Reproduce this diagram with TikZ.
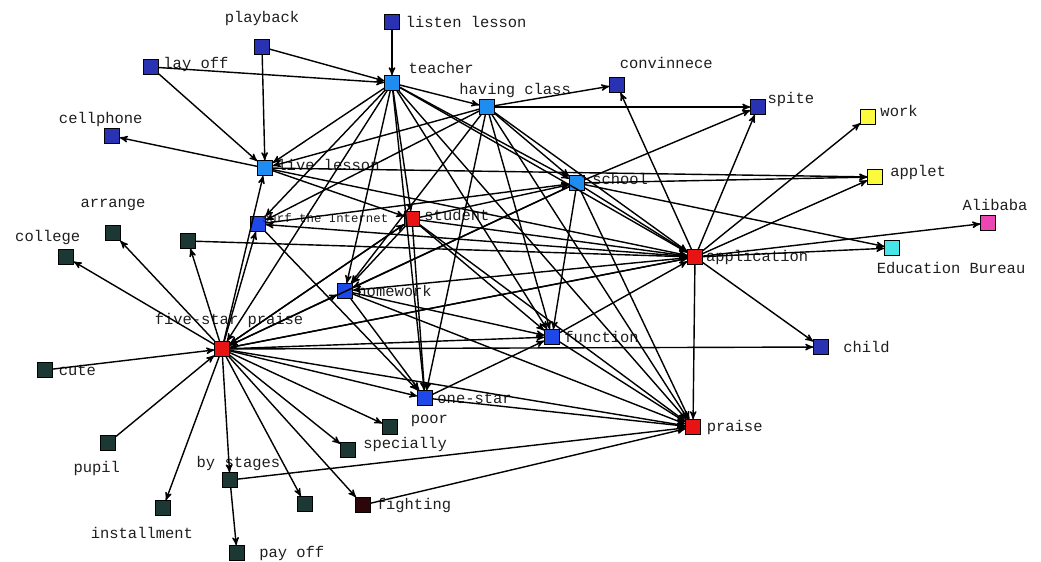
\documentclass[tikz,border=0pt]{standalone}
\usepackage{fontspec}
\setmonofont{Liberation Mono}
\usepackage{tikz}
\usetikzlibrary{arrows}

\definecolor{dblue}{RGB}{40,50,178}
\definecolor{lblue}{RGB}{30,140,240}
\definecolor{mblue}{RGB}{30,72,232}
\definecolor{nred}{RGB}{232,20,20}
\definecolor{nyellow}{RGB}{252,250,60}
\definecolor{nmagenta}{RGB}{236,70,180}
\definecolor{ncyan}{RGB}{70,230,232}
\definecolor{nteal}{RGB}{28,56,52}
\definecolor{nfight}{RGB}{44,6,10}
\definecolor{txtc}{RGB}{30,30,30}

\begin{document}
\begin{tikzpicture}[x=0.025cm, y=-0.025cm, ->, >=stealth', line width=1pt,
				   every node/.style={rectangle, draw=black, line width=0.6pt, minimum size=0.37cm, inner sep=0pt},
				   lbl/.style={draw=none, fill=none, minimum size=0pt, inner sep=1pt, text=txtc, font=\ttfamily\fontsize{11}{12}\selectfont},
				   small lbl/.style={lbl, font=\ttfamily\fontsize{8.8}{10}\selectfont}]
\useasboundingbox (0,0) rectangle (1041,561);

\node[fill=dblue, label={[lbl, yshift=8pt]above:playback}] (playb) at (262,47) {};
\node[fill=dblue, label={[lbl, xshift=3pt]right:listen lesson}] (listen) at (392,22) {};
\node[fill=dblue, label={[lbl, xshift=2pt, yshift=2pt]right:lay off}] (layoff) at (151,67) {};
\node[fill=lblue, label={[lbl, xshift=5pt]above right:teacher}] (teach) at (392,83) {};
\node[fill=lblue, label={[lbl, xshift=20pt]above:having class}] (having) at (487,107) {};
\node[fill=dblue, label={[lbl, xshift=35pt, yshift=5pt]above:convinnece}] (conv) at (617,85) {};
\node[fill=dblue, label={[lbl, yshift=5pt]right:spite}] (spite) at (758,107) {};
\node[fill=nyellow, label={[lbl, xshift=2pt, yshift=4pt]right:work}] (work) at (868,117) {};
\node[fill=dblue, label={[lbl, xshift=-8pt]above:cellphone}] (cellp) at (112,136) {};
\node[fill=lblue, label={[lbl, xshift=2pt, yshift=2pt]right:live lesson}] (live) at (265,168) {};
\node[fill=lblue, label={[lbl, xshift=4pt, yshift=3pt]right:school}] (school) at (577,183) {};
\node[fill=nyellow, label={[lbl, xshift=4pt, yshift=3pt]right:applet}] (applet) at (875,177) {};
\node[fill=nteal, label={[lbl, yshift=9pt]above:arrange}] (arrg) at (113,233) {};
\node[fill=nteal, label={[lbl, xshift=-13pt, yshift=2pt]above:college}] (coll) at (66,257) {};
\node[fill=nteal] (unA) at (188,241) {};
\node[fill=mblue, label={[small lbl, xshift=-4pt, yshift=4pt]right:surf the Internet}] (surf) at (258,224) {};
\node[fill=nred, label={[lbl, xshift=2pt, yshift=3pt]right:student}] (stud) at (412,219) {};
\node[fill=nmagenta, label={[lbl, xshift=5pt, yshift=2pt]above:Alibaba}] (alib) at (988,223) {};
\node[fill=nred, label={[lbl, xshift=1pt]right:application}] (appl) at (695,257) {};
\node[fill=ncyan, label={[lbl, xshift=42pt, yshift=-3pt]below:Education Bureau}] (eduB) at (892,248) {};
\node[fill=mblue, label={[lbl, xshift=2pt]right:homework}] (homew) at (345,291) {};
\node[fill=nred, label={[lbl, xshift=5pt, yshift=8pt]above:five-star praise}] (fsp) at (222,349) {};
\node[fill=mblue, label={[lbl, xshift=2pt]right:function}] (func) at (552,337) {};
\node[fill=dblue, label={[lbl, xshift=9pt]right:child}] (child) at (821,347) {};
\node[fill=nteal, label={[lbl, xshift=3pt]right:cute}] (cute) at (45,370) {};
\node[fill=mblue, label={[lbl, xshift=2pt]right:one-star}] (onestar) at (425,398) {};
\node[fill=nteal, label={[lbl, xshift=8pt, yshift=4pt]right:poor}] (poor) at (390,427) {};
\node[fill=nteal, label={[lbl, xshift=4pt, yshift=4pt]right:specially}] (spec) at (348,450) {};
\node[fill=nred, label={[lbl, xshift=3pt]right:praise}] (praise) at (693,427) {};
\node[fill=nteal, label={[lbl, xshift=-8pt, yshift=-6pt]below:pupil}] (pupil) at (108,443) {};
\node[fill=nteal, label={[lbl, xshift=6pt]above:by stages}] (bystg) at (230,480) {};
\node[fill=nfight, label={[lbl, xshift=3pt]right:fighting}] (fight) at (363,505) {};
\node[fill=nteal] (unB) at (305,504) {};
\node[fill=nteal, label={[lbl, xshift=-15pt, yshift=-7pt]below:installment}] (inst) at (163,508) {};
\node[fill=nteal, label={[lbl, xshift=9pt]right:pay off}] (payoff) at (237,553) {};

\draw (playb) -- (live);
\draw (playb) -- (teach);
\draw (layoff) -- (live);
\draw (layoff) -- (teach);
\draw (listen) -- (teach);
\draw (live) -- (cellp);
\foreach \t in {having,school,live,surf,stud,homew,onestar,func,appl,fsp,praise}
	\draw (teach) -- (\t);
\foreach \t in {conv,spite,live,surf,homew,onestar,func,school,appl,praise}
	\draw (having) -- (\t);
\foreach \t in {spite,applet,eduB,appl,praise,func,homew,fsp}
	\draw (school) -- (\t);
\draw (stud) -- (school);
\draw (surf) -- (school);
\foreach \t in {stud,applet,appl}
	\draw (live) -- (\t);
\foreach \t in {appl,praise,func,onestar,fsp,homew}
	\draw (stud) -- (\t);
\foreach \t in {conv,spite,work,applet,alib,eduB,praise,child,homew,surf,fsp}
	\draw (appl) -- (\t);
\draw (func) -- (appl);
\draw (unA) -- (appl);
\foreach \t in {func,onestar,praise}
	\draw (homew) -- (\t);
\draw (surf) -- (onestar);
\draw (func) -- (praise);
\draw (onestar) -- (func);
\draw (onestar) -- (praise);
\foreach \t in {child,func,onestar,poor,spec,praise,appl,stud,homew,surf,live,coll,arrg,unA,inst,bystg,unB,fight}
	\draw (fsp) -- (\t);
\draw (cute) -- (fsp);
\draw (pupil) -- (fsp);
\draw (bystg) -- (payoff);
\draw (bystg) -- (praise);
\draw (fight) -- (praise);
\end{tikzpicture}
\end{document}
